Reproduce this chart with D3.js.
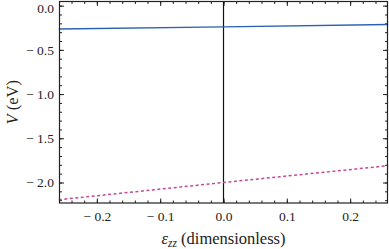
<!DOCTYPE html>
<html>
<head>
<meta charset="utf-8">
<script src="https://cdn.jsdelivr.net/npm/d3@7"></script>
<style>
  body { margin: 0; background: #fff; }
</style>
</head>
<body>
<div id="chart"></div>
<script>
// strain values (dimensionless)
let strain = [-0.26, 0, 0.26],
    upperV = [-0.265, -0.24, -0.213],   // blue solid
    lowerV = [-2.195, -2.0, -1.81],     // pink dotted
    xTicks = [-0.2, -0.1, 0.0, 0.1, 0.2],
    yTicks = [0.0, -0.5, -1.0, -1.5, -2.0];

let W = 389, H = 249,
    FONT = '"Liberation Serif", "Times New Roman", serif',
    margin = {t: 1.5, l: 59.5, b: 46, r: 1.5},
    width = W - margin.l - margin.r,
    height = H - margin.t - margin.b;

let svg = d3.select('#chart')
            .append('svg')
            .attr('width', W)
            .attr('height', H);

let g = svg.append('g')
           .attr('transform', `translate(${margin.l}, ${margin.t})`);

let scale_x = d3.scaleLinear().domain([-0.259, 0.259]).range([0, width]),
    scale_y = d3.scaleLinear().domain([-2.232, 0.047]).range([height, 0]);

let fmt = d => d < 0 ? '\u2212 ' + Math.abs(d).toFixed(1) : d.toFixed(1);

let xMinor = d3.range(-0.24, 0.2401, 0.02).map(v => +v.toFixed(2)),
    yMinor = d3.range(-2.2, 0.001, 0.1).map(v => +v.toFixed(1));

// ticks pointing inward on all four sides
let addTicks = (axisFn, scale, vals, size, tr) => {
  let a = g.append('g')
    .attr('transform', tr)
    .call(axisFn(scale).tickValues(vals).tickSize(size).tickFormat(''));
  a.select('.domain').remove();
  a.selectAll('line').attr('stroke', '#222');
  return a;
};
addTicks(d3.axisBottom, scale_x, xMinor, -2.5, `translate(0, ${height})`);
addTicks(d3.axisTop, scale_x, xMinor, -2.5, 'translate(0, 0)');
addTicks(d3.axisRight, scale_y, yMinor, -2.5, `translate(${width}, 0)`);
addTicks(d3.axisLeft, scale_y, yMinor, -2.5, 'translate(0, 0)');
addTicks(d3.axisTop, scale_x, xTicks, -4.5, 'translate(0, 0)');
addTicks(d3.axisRight, scale_y, yTicks, -4.5, `translate(${width}, 0)`);

// major ticks with labels
let xAxis = g.append('g')
  .attr('transform', `translate(0, ${height})`)
  .call(d3.axisBottom(scale_x).tickValues(xTicks).tickSize(-4.5).tickPadding(8).tickFormat(fmt));
xAxis.select('.domain').remove();
xAxis.selectAll('line').attr('stroke', '#222');
xAxis.selectAll('text').attr('font-size', 13.5).attr('font-family', FONT).attr('fill', '#222');

let yAxis = g.append('g')
  .call(d3.axisLeft(scale_y).tickValues(yTicks).tickSize(-4.5).tickPadding(5.5).tickFormat(fmt));
yAxis.select('.domain').remove();
yAxis.selectAll('line').attr('stroke', '#222');
yAxis.selectAll('text').attr('font-size', 13.5).attr('font-family', FONT).attr('fill', '#222')
  .attr('dy', d => d === 0 ? '0.48em' : '0.32em');   // keep the top label inside the page

// vertical line at zero strain
g.append('line')
  .attr('x1', scale_x(0)).attr('x2', scale_x(0))
  .attr('y1', 0).attr('y2', height)
  .attr('stroke', '#111').attr('stroke-width', 1.2);

let line = d3.line().x((d, i) => scale_x(strain[i])).y(d => scale_y(d));

g.append('path')
  .datum(upperV)
  .attr('d', line)
  .attr('fill', 'none')
  .attr('stroke', '#2a62b0')
  .attr('stroke-width', 1.5);

g.append('path')
  .datum(lowerV)
  .attr('d', line)
  .attr('fill', 'none')
  .attr('stroke', '#c04b95')
  .attr('stroke-width', 1.5)
  .attr('stroke-dasharray', '3,2.5');

// frame
g.append('rect')
  .attr('width', width).attr('height', height)
  .attr('fill', 'none')
  .attr('stroke', '#222').attr('stroke-width', 1.2);

// x label
let xl = svg.append('text')
  .attr('x', margin.l + width / 2)
  .attr('y', 244)
  .attr('text-anchor', 'middle')
  .attr('font-family', FONT)
  .attr('fill', '#222')
  .attr('font-size', 16.5);
xl.append('tspan').attr('font-style', 'italic').text('\u03b5');
xl.append('tspan').attr('font-style', 'italic').attr('font-size', 11.5).attr('dy', 3).text('zz');
xl.append('tspan').attr('dy', -3).text(' (dimensionless)');

// y label
let yl = svg.append('text')
  .attr('transform', `translate(18, ${margin.t + height / 2}) rotate(-90)`)
  .attr('text-anchor', 'middle')
  .attr('font-family', FONT)
  .attr('fill', '#222')
  .attr('font-size', 16.5);
yl.append('tspan').attr('font-style', 'italic').text('V');
yl.append('tspan').text(' (eV)');
</script>
</body>
</html>
